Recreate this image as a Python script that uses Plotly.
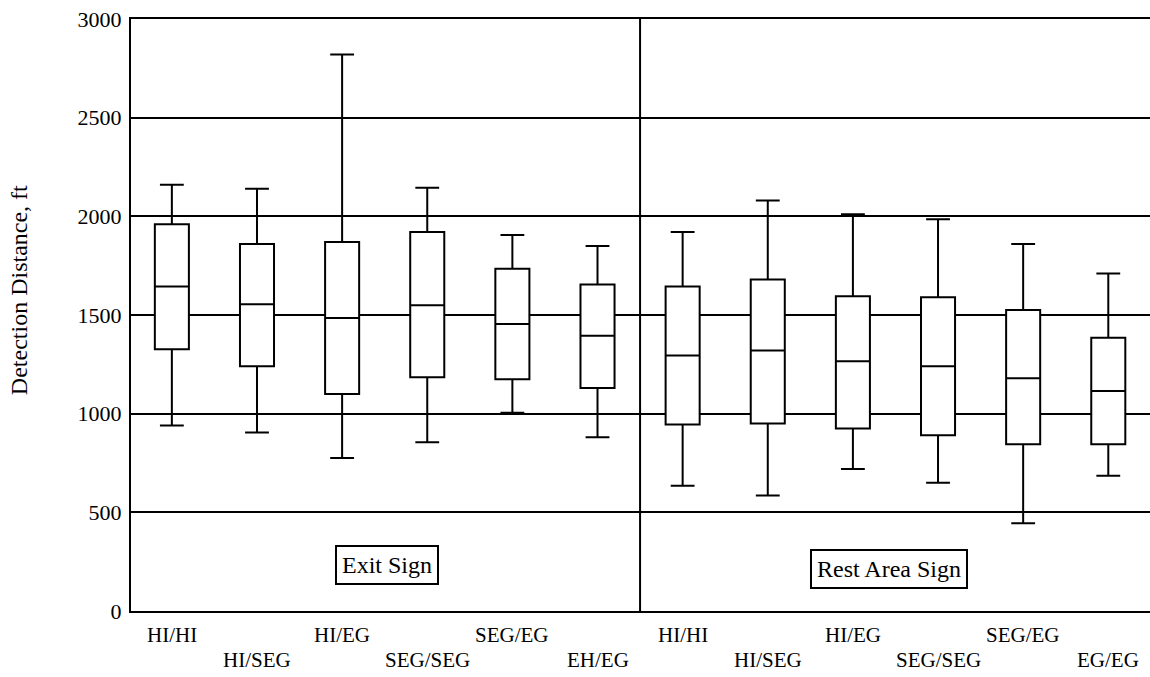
import plotly.graph_objects as go

# Detection distance (ft) summary per configuration: Exit Sign (first six), Rest Area Sign (last six)
categories = ["HI/HI", "HI/SEG", "HI/EG", "SEG/SEG", "SEG/EG", "EH/EG",
              "HI/HI", "HI/SEG", "HI/EG", "SEG/SEG", "SEG/EG", "EG/EG"]
upper_whisker = [2160, 2140, 2820, 2145, 1905, 1850, 1920, 2080, 2010, 1985, 1860, 1710]
q3_values = [1960, 1860, 1870, 1920, 1735, 1655, 1645, 1680, 1595, 1590, 1525, 1385]
median_values = [1645, 1555, 1485, 1550, 1455, 1395, 1295, 1320, 1265, 1240, 1180, 1115]
q1_values = [1327, 1240, 1100, 1185, 1175, 1130, 945, 950, 925, 890, 845, 845]
lower_whisker = [940, 905, 775, 855, 1005, 880, 635, 585, 720, 650, 445, 685]
y_ticks = [0, 500, 1000, 1500, 2000, 2500, 3000]
group_labels = ["Exit Sign", "Rest Area Sign"]

FONT = "Liberation Serif, Times New Roman, serif"
positions = list(range(len(categories)))

fig = go.Figure()
fig.add_trace(go.Box(
    x=positions,
    q1=q1_values,
    median=median_values,
    q3=q3_values,
    lowerfence=lower_whisker,
    upperfence=upper_whisker,
    width=0.4,
    whiskerwidth=0.7,
    fillcolor="white",
    line=dict(color="black", width=2),
    boxpoints=False,
    showlegend=False,
))

# divider between the two sign groups
fig.add_shape(type="line", xref="x", yref="y", x0=5.5, x1=5.5, y0=0, y1=3000,
              line=dict(color="black", width=2))

# staggered category labels under the axis
for i, name in enumerate(categories):
    fig.add_annotation(x=i, xref="x", y=0, yref="paper", text=name,
                       showarrow=False, yanchor="middle",
                       yshift=-24 if i % 2 == 0 else -49,
                       font=dict(family=FONT, size=21, color="black"))

# group name boxes
for label, xpos, ypos in zip(group_labels, [2.53, 8.42], [235, 215]):
    fig.add_annotation(x=xpos, y=ypos, xref="x", yref="y", text=label,
                       showarrow=False, bordercolor="black", borderwidth=2,
                       borderpad=5, bgcolor="white",
                       font=dict(family=FONT, size=24, color="black"))

# axis title
fig.add_annotation(x=0, xref="paper", xshift=-112, xanchor="center",
                   y=0.542, yref="paper", yanchor="middle",
                   text="Detection Distance, ft", textangle=-90, showarrow=False,
                   font=dict(family=FONT, size=24, color="black"))

fig.update_layout(
    width=1150, height=677,
    margin=dict(l=131, r=0, t=19, b=66),
    paper_bgcolor="white", plot_bgcolor="white",
    font=dict(family=FONT, color="black"),
    xaxis=dict(range=[-0.48, 11.49], showgrid=False, zeroline=False,
               showticklabels=False, ticks="",
               showline=True, mirror=True, linecolor="black", linewidth=2),
    yaxis=dict(range=[0, 3000], tickvals=y_ticks, ticks="",
               showgrid=True, gridcolor="black", gridwidth=2,
               zeroline=False, showline=True, linecolor="black", linewidth=2,
               ticklabelstandoff=3,
               tickfont=dict(family=FONT, size=22, color="black")),
)

fig.write_html("out.html")
